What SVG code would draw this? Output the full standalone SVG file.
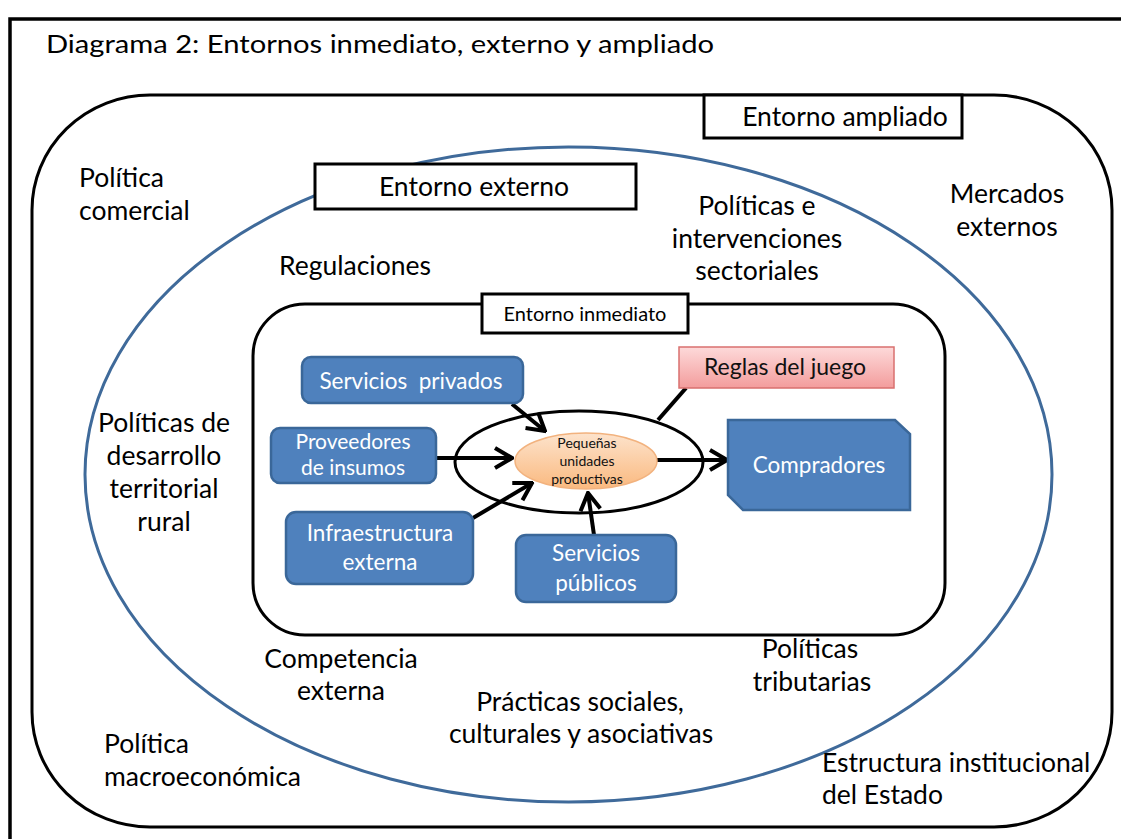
<svg xmlns="http://www.w3.org/2000/svg" width="1121" height="839" viewBox="0 0 1121 839">
<defs>
<style>
.lbl{font-family:Lato,"Open Sans","Liberation Sans",sans-serif;font-size:26.5px;fill:#000}
.c{text-anchor:middle}
.box{fill:#4F81BD;stroke:#3A6799;stroke-width:2.5}
.wt{font-family:Lato,"Open Sans","Liberation Sans",sans-serif;font-size:22.5px;fill:#fff;text-anchor:middle}
.tag{fill:#fff;stroke:#000;stroke-width:3}
.con{stroke:#000;stroke-width:4;fill:none}
.sm{font-family:Lato,"Open Sans","Liberation Sans",sans-serif;font-size:14px;fill:#111;text-anchor:middle}
</style>
<marker id="arr" viewBox="-20 -13 22 26" refX="0" refY="0" markerWidth="22" markerHeight="26" markerUnits="userSpaceOnUse" orient="auto">
<path d="M-17,-10 L0,0 L-17,10" fill="none" stroke="#000" stroke-width="4"/>
</marker>
<linearGradient id="pink" x1="0" y1="0" x2="0" y2="1">
<stop offset="0" stop-color="#FDDADA"/>
<stop offset="1" stop-color="#F39C9C"/>
</linearGradient>
<linearGradient id="orange" x1="0" y1="0" x2="0" y2="1">
<stop offset="0" stop-color="#FDE3CC"/>
<stop offset="1" stop-color="#FAB97F"/>
</linearGradient>
</defs>

<rect id="frame" x="10" y="19" width="1200" height="900" fill="#fff" stroke="#000" stroke-width="3.5"/>
<text id="title" x="46" y="53" font-family="Lato,'Open Sans','Liberation Sans',sans-serif" font-size="25.5" textLength="668" lengthAdjust="spacingAndGlyphs">Diagrama 2: Entornos inmediato, externo y ampliado</text>

<g id="entorno-ampliado">
<rect x="32" y="95" width="1080" height="732" rx="118" ry="115" fill="none" stroke="#000" stroke-width="3"/>
<rect class="tag" x="704" y="95" width="258" height="43"/>
<text class="lbl c" x="845" y="126">Entorno ampliado</text>
</g>

<g id="entorno-externo">
<ellipse cx="568.5" cy="474.5" rx="483.5" ry="327.5" fill="none" stroke="#3F6A9A" stroke-width="3"/>
<rect class="tag" x="315" y="164" width="321" height="45"/>
<text class="lbl c" x="474" y="196">Entorno externo</text>
</g>

<g id="entorno-inmediato">
<rect x="253" y="304" width="692" height="331" rx="52" ry="52" fill="none" stroke="#000" stroke-width="3"/>
<rect class="tag" x="482" y="294" width="206" height="39" stroke-width="2.5"/>
<text class="lbl c" x="585" y="321" style="font-size:20px">Entorno inmediato</text>
</g>

<g id="labels">
<text class="lbl" x="79" y="187">Política</text>
<text class="lbl" x="79" y="220">comercial</text>
<text class="lbl" x="279" y="275">Regulaciones</text>
<text class="lbl c" x="757" y="215">Políticas e</text>
<text class="lbl c" x="757" y="248">intervenciones</text>
<text class="lbl c" x="757" y="280">sectoriales</text>
<text class="lbl c" x="1007" y="203">Mercados</text>
<text class="lbl c" x="1007" y="236">externos</text>
<text class="lbl c" x="164" y="432">Políticas de</text>
<text class="lbl c" x="164" y="465">desarrollo</text>
<text class="lbl c" x="164" y="498">territorial</text>
<text class="lbl c" x="164" y="531">rural</text>
<text class="lbl c" x="341" y="668">Competencia</text>
<text class="lbl c" x="341" y="700">externa</text>
<text class="lbl c" x="810" y="658">Políticas</text>
<text class="lbl c" x="812" y="691">tributarias</text>
<text class="lbl c" x="580" y="711">Prácticas sociales,</text>
<text class="lbl c" x="581" y="743">culturales y asociativas</text>
<text class="lbl" x="104" y="753">Política</text>
<text class="lbl" x="104" y="786">macroeconómica</text>
<text class="lbl" x="822" y="772">Estructura institucional</text>
<text class="lbl" x="822" y="804">del Estado</text>
</g>

<g id="connectors">
<line class="con" x1="512" y1="404" x2="545" y2="431" marker-end="url(#arr)"/>
<line class="con" x1="436" y1="458" x2="512" y2="458" marker-end="url(#arr)"/>
<line class="con" x1="473" y1="518" x2="532" y2="483" marker-end="url(#arr)"/>
<line class="con" x1="594" y1="535" x2="588" y2="493" marker-end="url(#arr)"/>
<line class="con" x1="657" y1="460" x2="727" y2="460" marker-end="url(#arr)"/>
<line class="con" x1="658" y1="420" x2="686" y2="388"/>
</g>

<g id="nucleo">
<ellipse cx="579" cy="462" rx="124" ry="51" fill="none" stroke="#000" stroke-width="3"/>
</g>

<g id="pequenas-unidades">
<ellipse cx="586" cy="461" rx="71" ry="28" fill="url(#orange)" stroke="#F2B27E" stroke-width="1.5"/>
<text class="sm" x="587" y="448">Pequeñas</text>
<text class="sm" x="587" y="466">unidades</text>
<text class="sm" x="587" y="484">productivas</text>
</g>

<g id="servicios-privados">
<rect class="box" x="302" y="357" width="221" height="46" rx="9"/>
<text class="wt" x="411" y="389" xml:space="preserve">Servicios  privados</text>
</g>

<g id="proveedores">
<rect class="box" x="271" y="428" width="165" height="55" rx="9"/>
<text class="wt" x="353" y="449" style="font-size:21px">Proveedores</text>
<text class="wt" x="353" y="475" style="font-size:21px">de insumos</text>
</g>

<g id="infraestructura">
<rect class="box" x="286" y="512" width="187" height="72" rx="10"/>
<text class="wt" x="380" y="541">Infraestructura</text>
<text class="wt" x="380" y="570">externa</text>
</g>

<g id="servicios-publicos">
<rect class="box" x="516" y="535" width="160" height="67" rx="10"/>
<text class="wt" x="596" y="561">Servicios</text>
<text class="wt" x="596" y="591">públicos</text>
</g>

<g id="reglas">
<rect x="679" y="347" width="215" height="41" fill="url(#pink)" stroke="#D9706F" stroke-width="1.5"/>
<text x="785" y="375" font-family="Lato,'Open Sans','Liberation Sans',sans-serif" font-size="23" text-anchor="middle" fill="#111">Reglas del juego</text>
</g>

<g id="compradores">
<path class="box" d="M728,420 L895,420 L910,434 L910,510 L743,510 L728,495 Z"/>
<text class="wt" x="819" y="473">Compradores</text>
</g>
</svg>
